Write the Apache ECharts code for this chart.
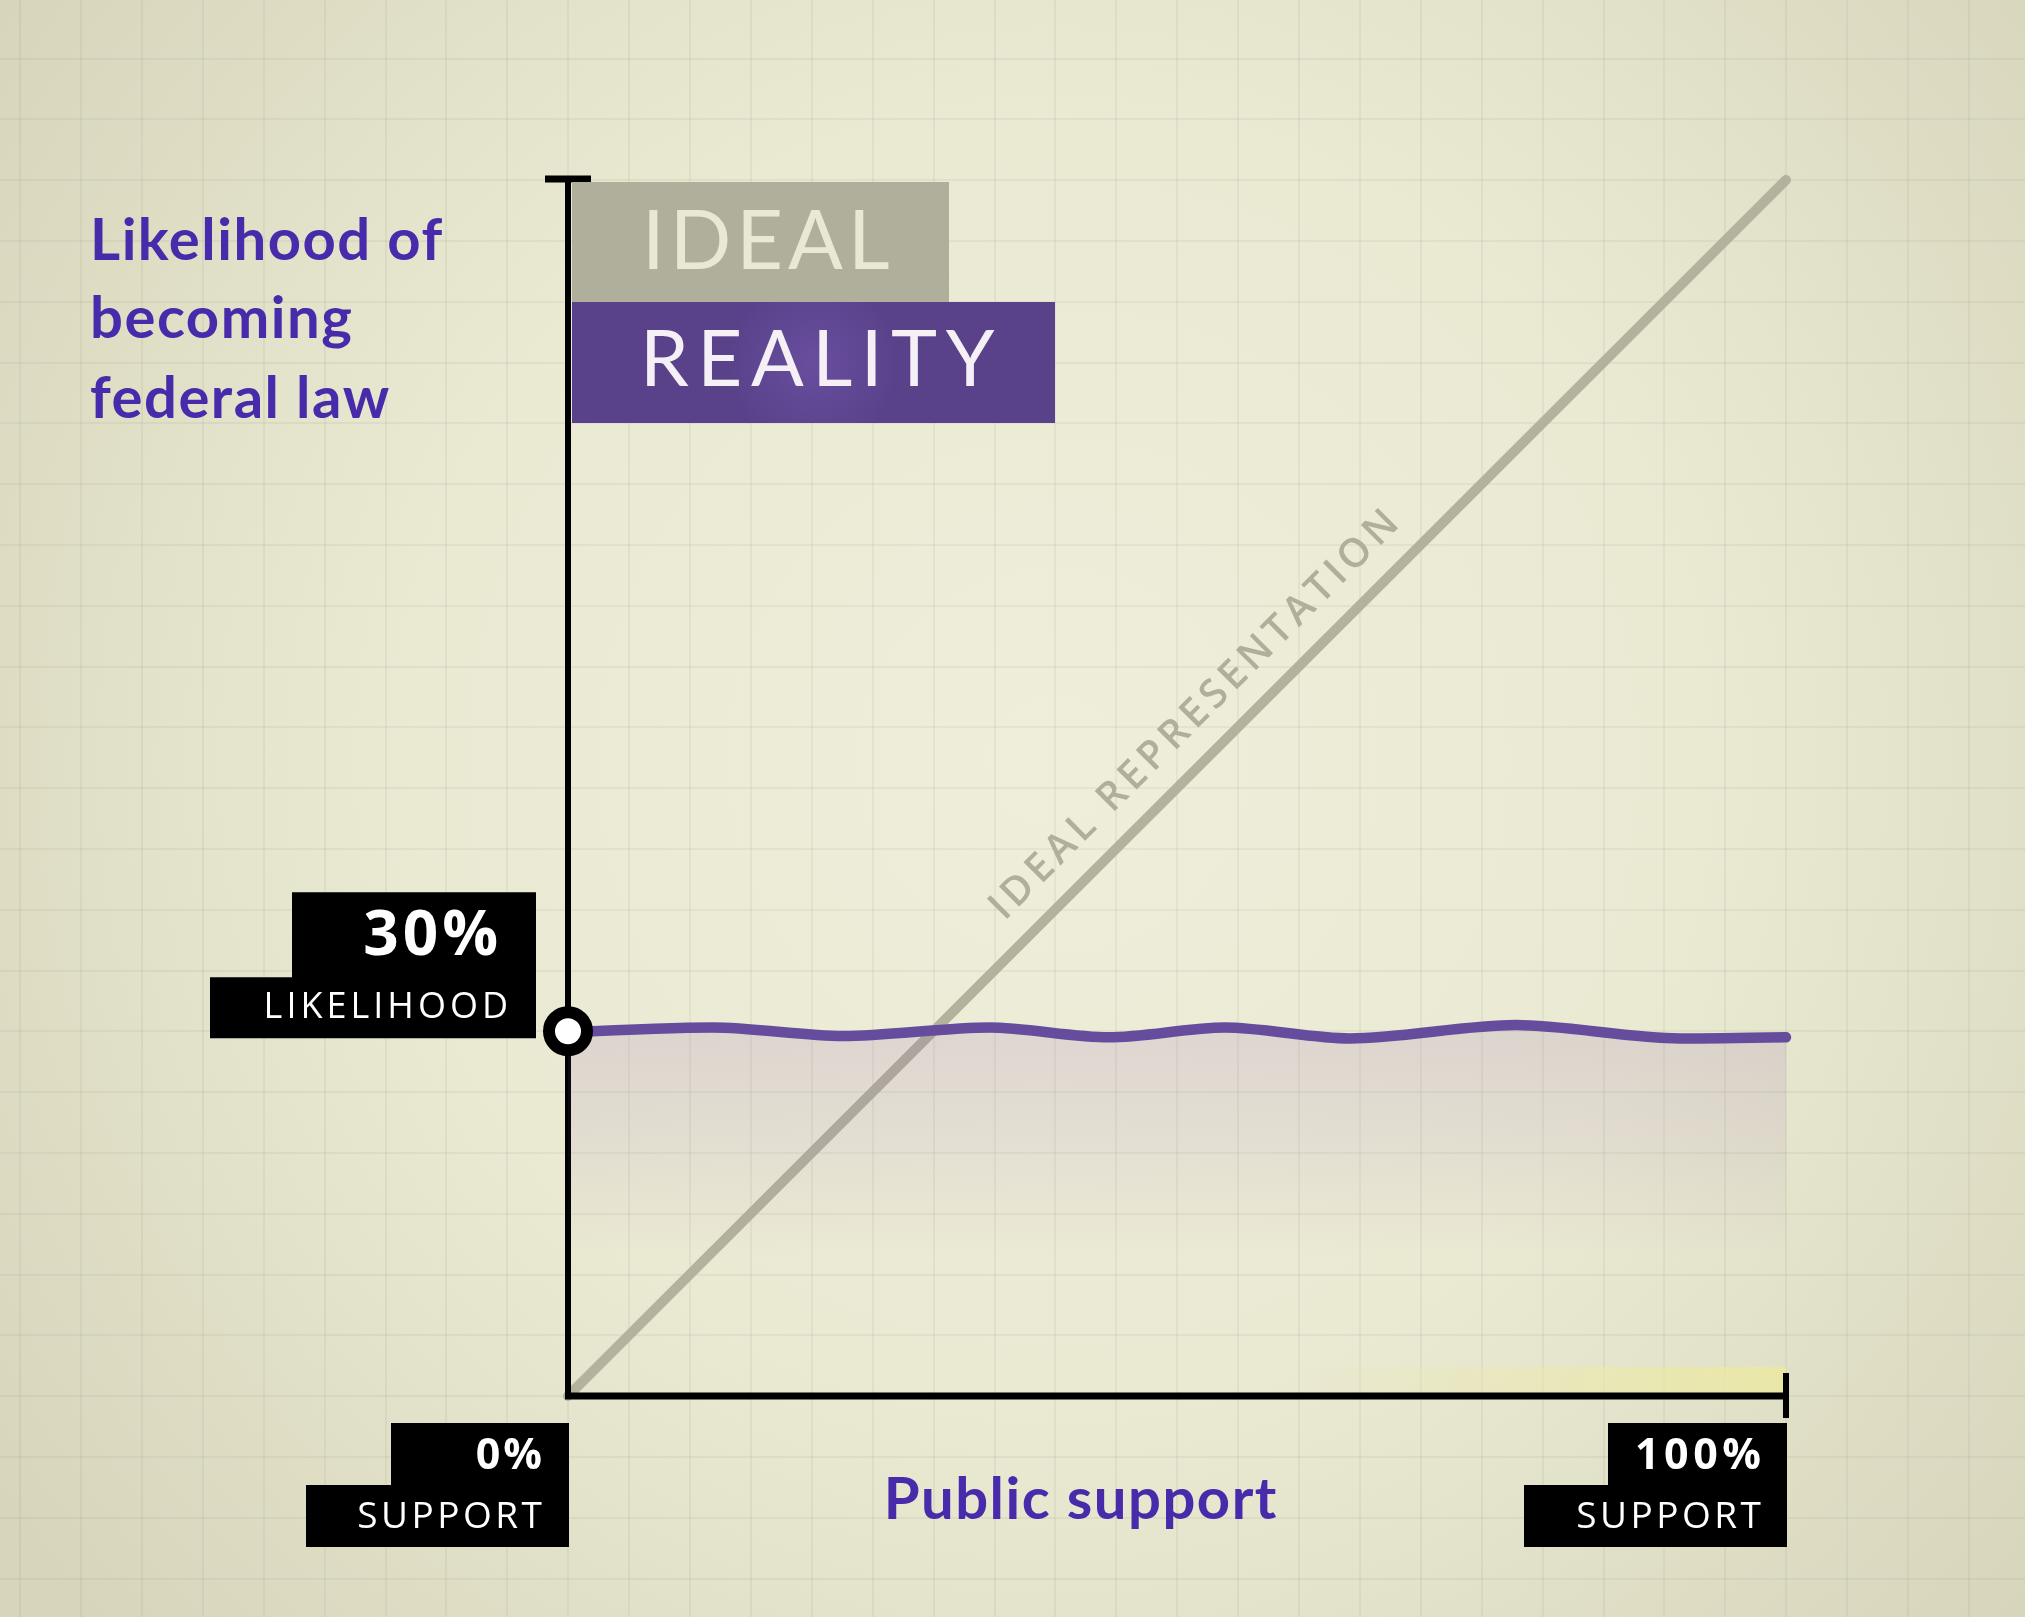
<!DOCTYPE html>
<html><head><meta charset="utf-8">
<script src="https://cdn.jsdelivr.net/npm/echarts@6/dist/echarts.min.js"></script>
<style>html,body{margin:0;padding:0;background:#e6e5ce;}#chart{width:2025px;height:1617px;}</style>
</head><body><div id="chart"></div>
<script>
// ---- data ----
const supportPct    = [0, 11.9, 22.6, 34.6, 44.4, 53.9, 64.2, 77.8, 91.3, 100];
const lawLikelihood = [29.9, 30.3, 29.6, 30.3, 29.5, 30.3, 29.4, 30.5, 29.4, 29.5];
const idealSupport = [0, 100];
const idealLikelihood = [0, 100];
const markerPoint = [0, 30];
const yTickText = ['30%', 'LIKELIHOOD'];
const xTickStart = ['0%', 'SUPPORT'];
const xTickEnd = ['100%', 'SUPPORT'];
const yTitleLines = ['Likelihood of', 'becoming', 'federal law'];
const xTitle = 'Public support';
const legendNames = ['IDEAL', 'REALITY'];
const diagonalLabel = 'IDEAL REPRESENTATION';
const axisRange = [0, 100];

// letter spacing for tracked labels (canvas letterSpacing)
const tracking = {};
tracking[legendNames[0]] = 5;
tracking[legendNames[1]] = 8.5;
tracking[yTickText[0]] = 4;
tracking[yTickText[1]] = 4;
tracking[xTickStart[0]] = 3;
tracking[xTickStart[1]] = 3.5;
tracking[xTickEnd[0]] = 4.5;
tracking[diagonalLabel] = 5;
yTitleLines.forEach(t => { tracking[t] = 1.5; });
tracking[xTitle] = 1.5;
const origFill = CanvasRenderingContext2D.prototype.fillText;
CanvasRenderingContext2D.prototype.fillText = function (t, x, y) {
  const ls = tracking[t] || 0;
  const args = Array.prototype.slice.call(arguments);
  if ('letterSpacing' in this) {
    this.save();
    this.letterSpacing = ls + 'px';
    let dx = 0;
    if (this.textAlign === 'right' || this.textAlign === 'end') dx = ls;
    else if (this.textAlign === 'center') dx = ls / 2;
    args[1] = x + dx;
    origFill.apply(this, args);
    this.restore();
  } else {
    origFill.apply(this, args);
  }
};

const chart = echarts.init(document.getElementById('chart'), null, { renderer: 'canvas' });

const gridLine = { show: true, lineStyle: { color: 'rgba(105,105,75,0.09)', width: 1.5 } };

chart.setOption({
  animation: false,
  backgroundColor: {
    type: 'radial', x: 0.52, y: 0.47, r: 0.8,
    colorStops: [
      { offset: 0, color: '#efeedb' },
      { offset: 0.5, color: '#eae9d2' },
      { offset: 1, color: '#d7d6bc' }
    ]
  },
  grid: { left: -41, right: -65.5, top: -2.4, bottom: -22.2, containLabel: false, outerBoundsMode: 'none' },
  xAxis: {
    type: 'value', min: -50, max: 125, interval: 5,
    axisLine: { show: false }, axisTick: { show: false }, axisLabel: { show: false },
    splitLine: gridLine
  },
  yAxis: {
    type: 'value', min: -20, max: 115, interval: 5,
    axisLine: { show: false }, axisTick: { show: false }, axisLabel: { show: false },
    splitLine: gridLine
  },
  series: [
    {
      name: 'Ideal representation', type: 'line', z: 4,
      data: idealSupport.map((v, i) => [v, idealLikelihood[i]]),
      symbol: 'none',
      lineStyle: { color: '#b3b29c', width: 10, cap: 'round' }
    },
    {
      name: 'Reality', type: 'line', z: 6, smooth: 0.3,
      data: supportPct.map((v, i) => [v, lawLikelihood[i]]),
      symbol: 'none',
      lineStyle: { color: '#664c9c', width: 10.5, cap: 'round' },
      areaStyle: {
        color: {
          type: 'linear', x: 0, y: 0, x2: 0, y2: 1,
          colorStops: [
            { offset: 0, color: 'rgba(120,70,170,0.19)' },
            { offset: 0.3, color: 'rgba(120,70,170,0.11)' },
            { offset: 0.62, color: 'rgba(120,70,170,0.0)' }
          ]
        }
      }
    },
    {
      name: 'Marker', type: 'scatter', z: 10,
      data: [markerPoint],
      symbol: 'circle', symbolSize: 38,
      itemStyle: { color: '#ffffff', borderColor: '#000000', borderWidth: 12, opacity: 1 }
    }
  ]
});

const px = (x, y) => chart.convertToPixel({ gridIndex: 0 }, [x, y]);
const O = px(axisRange[0], axisRange[0]);
const T = px(axisRange[0], axisRange[1]);
const R = px(axisRange[1], axisRange[0]);
const M = px(markerPoint[0], markerPoint[1]);

const purple = '#482bab';
const titleFont = (t, x, y, align) => ({
  type: 'text', z: 20,
  style: { text: t, x: x, y: y, fill: purple, fontFamily: 'Lato', fontWeight: 'bold', fontSize: 58,
    align: align || 'left', verticalAlign: 'middle' }
});
const rect = (x, y, w, h, fill, z) => ({ type: 'rect', z: z || 15, shape: { x: x, y: y, width: w, height: h }, style: { fill: fill } });
const label = (t, x, y, size, weight, fill) => ({
  type: 'text', z: 21,
  style: { text: t, x: x, y: y, fill: fill || '#ffffff', fontFamily: 'Open Sans', fontWeight: weight, fontSize: size,
    align: 'right', verticalAlign: 'middle' }
});

const foot = px(53.7, 53.7);
const P100 = px(100, 100);
const diagAngle = Math.atan2(-(P100[1] - O[1]), P100[0] - O[0]);

chart.setOption({
  graphic: [
    { type: 'rect', z: 3, shape: { x: O[0] + 730, y: O[1] - 29, width: R[0] - O[0] - 730, height: 27 },
      style: { fill: { type: 'linear', x: 0, y: 0, x2: 1, y2: 0, colorStops: [
        { offset: 0, color: 'rgba(236,234,170,0)' }, { offset: 0.6, color: 'rgba(236,234,170,0.6)' }, { offset: 1, color: 'rgba(234,232,165,0.95)' }] } } },
    { type: 'line', z: 5, shape: { x1: O[0], y1: O[1] + 3, x2: T[0], y2: T[1] }, style: { stroke: '#000', lineWidth: 6 } },
    { type: 'line', z: 5, shape: { x1: T[0] - 23, y1: T[1] - 1, x2: T[0] + 23, y2: T[1] - 1 }, style: { stroke: '#000', lineWidth: 7 } },
    { type: 'line', z: 5, shape: { x1: O[0] - 3, y1: O[1], x2: R[0], y2: R[1] }, style: { stroke: '#000', lineWidth: 7 } },
    { type: 'line', z: 5, shape: { x1: R[0], y1: R[1] - 23, x2: R[0], y2: R[1] + 22 }, style: { stroke: '#000', lineWidth: 6 } },
    rect(O[0] + 4, T[1] + 2, 377, 120, '#b0af9c'),
    { type: 'rect', z: 15, shape: { x: O[0] + 4, y: T[1] + 122, width: 483, height: 121 },
      style: { fill: { type: 'radial', x: 0.5, y: 0.5, r: 0.7, colorStops: [
        { offset: 0, color: '#684e9e' }, { offset: 1, color: '#5a428b' }] } } },
    { type: 'text', z: 21, style: { text: legendNames[0], x: O[0] + 74, y: T[1] + 63, fill: '#e8e8d3',
      fontFamily: 'Lato', fontWeight: 'normal', fontSize: 81, align: 'left', verticalAlign: 'middle' } },
    { type: 'text', z: 21, style: { text: legendNames[1], x: O[0] + 72, y: T[1] + 181, fill: '#f4f0f6',
      fontFamily: 'Lato', fontWeight: 'normal', fontSize: 78, align: 'left', verticalAlign: 'middle' } },
    rect(M[0] - 276, M[1] - 139, 244, 86, '#000000'),
    rect(M[0] - 358, M[1] - 54, 326, 61, '#000000'),
    label(yTickText[0], M[0] - 70, M[1] - 94, 62, 'bold'),
    label(yTickText[1], M[0] - 60, M[1] - 23, 36, 'normal'),
    rect(O[0] - 177, O[1] + 27, 178, 62, '#000000'),
    rect(O[0] - 262, O[1] + 89, 263, 62, '#000000'),
    label(xTickStart[0], O[0] - 26, O[1] + 61, 43, 'bold'),
    label(xTickStart[1], O[0] - 26, O[1] + 121, 37, 'normal'),
    rect(R[0] - 178, R[1] + 27, 179, 62, '#000000'),
    rect(R[0] - 262, R[1] + 89, 263, 62, '#000000'),
    label(xTickEnd[0], R[0] - 25, R[1] + 61, 43, 'bold'),
    label(xTickEnd[1], R[0] - 25, R[1] + 121, 37, 'normal'),
    titleFont(yTitleLines[0], 90, 241),
    titleFont(yTitleLines[1], 90, 319),
    titleFont(yTitleLines[2], 90, 399),
    titleFont(xTitle, (O[0] + R[0]) / 2 - 97, 1500, 'center'),
    { type: 'text', z: 8, x: foot[0] - 27.5, y: foot[1] - 27.5, rotation: diagAngle,
      style: { text: diagonalLabel, x: 0, y: 0, fill: '#b0af99', fontFamily: 'Open Sans', fontWeight: 600,
        fontSize: 40, align: 'center', verticalAlign: 'middle' } }
  ]
});
</script>
</body></html>
